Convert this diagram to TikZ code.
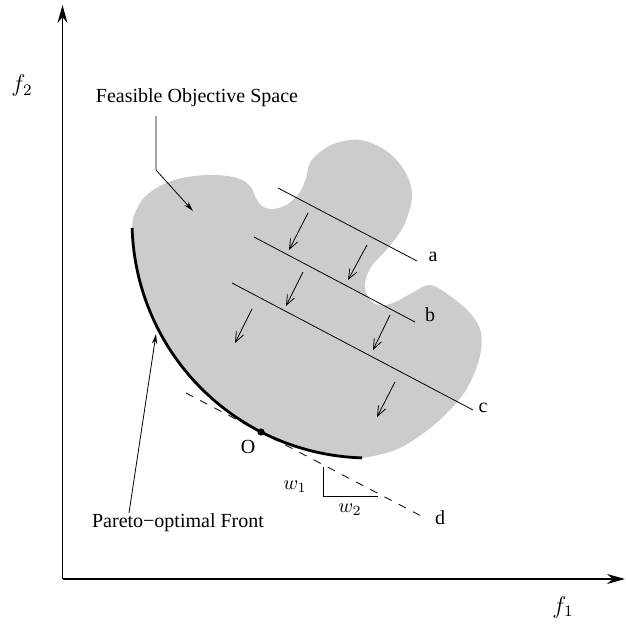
\documentclass[tikz,border=0pt]{standalone}
\usepackage{amsmath,amssymb}
\usepackage[no-math]{fontspec}
\setmainfont{Liberation Serif}
\usepackage{tikz}
\usepackage{xcolor}
\usetikzlibrary{arrows.meta,calc}
\definecolor{feasgray}{RGB}{204,204,204}

\tikzset{
    axis/.style={line width=0.8pt, -{Stealth[length=9pt,width=5pt]}},
    axislabel/.style={font=\large},
    leader/.style={thin, -{Stealth[length=5pt,width=2.6pt]}},
    descend/.style={thin, -{Straight Barb[length=5pt,width=4pt]}},
    front/.style={line width=1.4pt},
    level/.style={thin},
}

\begin{document}
\begin{tikzpicture}[x=0.5pt, y=-0.5pt, >=Stealth]
    \useasboundingbox (0,0) rectangle (626,625);

    % Axes
    \coordinate (orig) at (62.5,579);
    \coordinate (ytop) at (62.5,5);
    \coordinate (xend) at (625,579);
    \draw[axis] (orig) -- (ytop);
    \draw[axis] (orig) -- (xend);
    \node[axislabel] (f1lab) at (563,607) {$f_1$};
    \node[axislabel] (f2lab) at (22,86) {$f_2$};

    % Feasible region
    \fill[feasgray] plot[domain=91.7:178.3, samples=60] ({369+237*cos(\x)},{221+237*sin(\x)})
        -- plot[smooth, tension=0.6] coordinates {
            (133,218) (142,200) (158,187) (182,178) (212,175) (237,178)
            (250,186) (256,198) (262,206) (273,209) (288,204) (300,192)
            (306,178) (310,163) (320,152) (336,143) (360,140) (385,150)
            (404,170) (412,195) (404,225) (388,248) (371,267) (365,284)
            (368,297) (378,305) (393,303) (412,293) (430,285) (450,296)
            (470,313) (481,333) (479,360) (466,390) (447,413) (425,432)
            (400,448) (378,455) (362,458)} -- cycle;

    % Pareto-optimal front
    \draw[front] plot[domain=91.7:178.3, samples=60] ({369+237*cos(\x)},{221+237*sin(\x)});

    % Level lines
    \coordinate (a1) at (278,188); \coordinate (a2) at (417,261);
    \coordinate (b1) at (254,237); \coordinate (b2) at (415,322);
    \coordinate (c1) at (232,283); \coordinate (c2) at (473,410);
    \draw[level] (a1) -- (a2);
    \draw[level] (b1) -- (b2);
    \draw[level] (c1) -- (c2);
    \node (alab) at (433,257) {a};
    \node (blab) at (430,315) {b};
    \node (clab) at (483,408) {c};

    % Descent arrows
    \foreach \sx/\sy/\ex/\ey in {308/213/289/250, 367/245/348/280, 303/272/286/306,
                                 252/309/235/343, 390/315/373/350, 395/382/377/417} {
        \draw[descend] (\sx,\sy) -- (\ex,\ey);
    }

    % Tangent line d
    \coordinate (d1) at (186,393);
    \coordinate (d2) at (425,518);
    \draw[thin, dash pattern=on 4pt off 4pt] (d1) -- (d2);
    \node (dlab) at (440,518) {d};

    % Optimum
    \coordinate (opt) at (261,432);
    \fill (opt) circle (1.8pt);
    \node (olab) at (248,447) {O};

    % Weights
    \coordinate (wtop) at (323,467);
    \coordinate (wcorner) at (323,496);
    \coordinate (wright) at (378,496);
    \draw[thin] (wtop) -- (wcorner) -- (wright);
    \node (w1lab) at (295,487) {$w_1$};
    \node (w2lab) at (350,510) {$w_2$};

    % Labels with leaders
    \node (fos) at (197,98) {Feasible Objective Space};
    \coordinate (fosbend) at (156,170);
    \coordinate (fostip) at (193,211);
    \draw[leader] ([yshift=-1pt]fos.south -| fosbend) -- (fosbend) -- (fostip);

    \node (pof) at (178,523) {Pareto−optimal Front};
    \coordinate (pofbase) at (129,513);
    \coordinate (poftip) at (156,334);
    \draw[leader] (pofbase) -- (poftip);
\end{tikzpicture}
\end{document}
